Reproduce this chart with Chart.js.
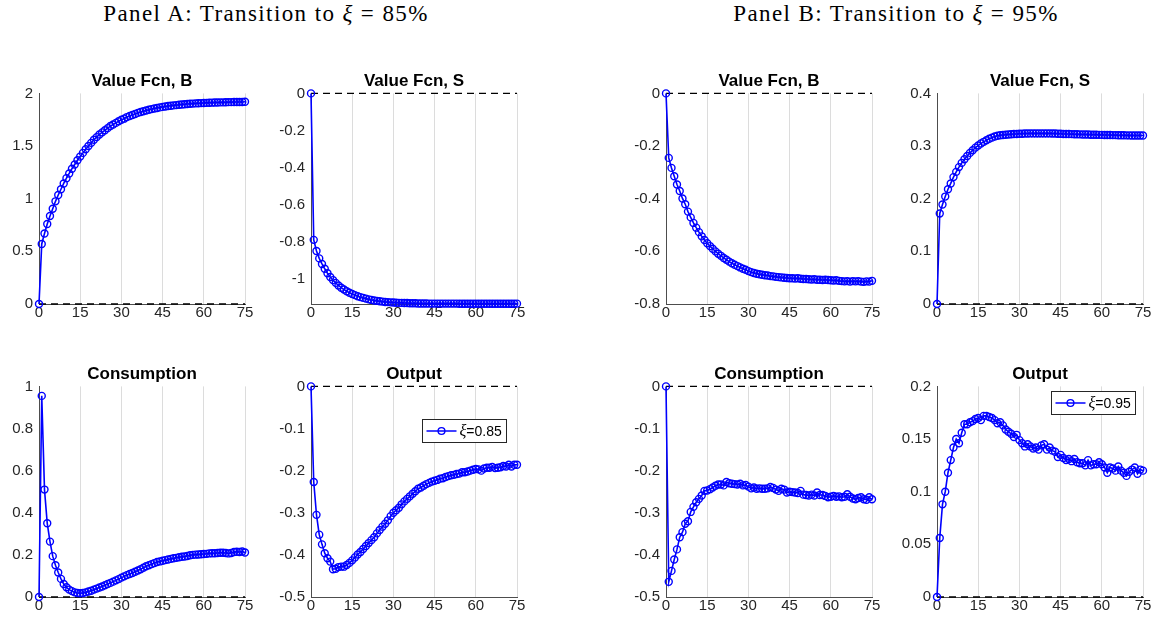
<!DOCTYPE html>
<html>
<head>
<meta charset="utf-8">
<script src="https://cdn.jsdelivr.net/npm/chart.js@4.4.0/dist/chart.umd.min.js"></script>
<style>
  body { margin:0; width:1159px; height:627px; background:#fff; position:relative; overflow:hidden; }
  .panel-head { position:absolute; top:3px; width:500px; text-align:center; font-family:"Liberation Serif", serif; font-size:23px; line-height:22px; letter-spacing:1.4px; color:#000; }
  .plot { position:absolute; }
</style>
</head>
<body>
<div class="panel-head" style="left:16px">Panel A: Transition to <i>ξ</i> = 85%</div>
<div class="panel-head" style="left:646px">Panel B: Transition to <i>ξ</i> = 95%</div>

<canvas id="vfB85" class="plot" width="254" height="263" style="left:1px;top:65px"></canvas>
<canvas id="vfS85" class="plot" width="254" height="263" style="left:273px;top:65px"></canvas>
<canvas id="vfB95" class="plot" width="254" height="263" style="left:628px;top:65px"></canvas>
<canvas id="vfS95" class="plot" width="254" height="263" style="left:899px;top:65px"></canvas>
<canvas id="cons85" class="plot" width="254" height="263" style="left:1px;top:358px"></canvas>
<canvas id="out85" class="plot" width="254" height="263" style="left:273px;top:358px"></canvas>
<canvas id="cons95" class="plot" width="254" height="263" style="left:628px;top:358px"></canvas>
<canvas id="out95" class="plot" width="254" height="263" style="left:899px;top:358px"></canvas>

<script>
// periods 0..75
const periods = Array.from({ length: 76 }, (_, i) => i);
const xTicks = [0, 15, 30, 45, 60, 75];

// Panel A (xi = 85%)
const vfB85 = [
  0, 0.57, 0.67, 0.76, 0.835, 0.905, 0.975, 1.035, 1.09, 1.145,
  1.195, 1.24, 1.285, 1.325, 1.365, 1.40, 1.435, 1.47, 1.50, 1.53,
  1.56, 1.585, 1.61, 1.63, 1.65, 1.67, 1.69, 1.705, 1.72, 1.735,
  1.75, 1.76, 1.775, 1.785, 1.795, 1.805, 1.815, 1.823, 1.83, 1.838,
  1.845, 1.851, 1.857, 1.862, 1.867, 1.872, 1.876, 1.88, 1.883, 1.886,
  1.889, 1.892, 1.895, 1.897, 1.899, 1.901, 1.903, 1.905, 1.906, 1.908,
  1.909, 1.91, 1.911, 1.912, 1.913, 1.914, 1.915, 1.915, 1.916, 1.917,
  1.917, 1.918, 1.918, 1.919, 1.919, 1.92
];
const vfS85 = [
  0, -0.79, -0.85, -0.89, -0.92, -0.946, -0.97, -0.99, -1.007, -1.022,
  -1.036, -1.048, -1.058, -1.067, -1.075, -1.082, -1.088, -1.094, -1.099, -1.103,
  -1.107, -1.111, -1.114, -1.117, -1.119, -1.121, -1.123, -1.125, -1.126, -1.127,
  -1.128, -1.129, -1.13, -1.13, -1.131, -1.131, -1.132, -1.132, -1.132, -1.133,
  -1.133, -1.133, -1.133, -1.134, -1.134, -1.134, -1.134, -1.134, -1.134, -1.134,
  -1.134, -1.134, -1.134, -1.134, -1.135, -1.135, -1.135, -1.135, -1.135, -1.135,
  -1.135, -1.135, -1.135, -1.135, -1.135, -1.135, -1.135, -1.135, -1.135, -1.135,
  -1.135, -1.135, -1.135, -1.135, -1.135, -1.134
];
const cons85 = [
  0, 0.955, 0.51, 0.35, 0.263, 0.194, 0.151, 0.116, 0.086, 0.062,
  0.046, 0.035, 0.028, 0.022, 0.019, 0.018, 0.019, 0.022, 0.026, 0.030,
  0.035, 0.040, 0.045, 0.050, 0.056, 0.062, 0.067, 0.073, 0.079, 0.085,
  0.092, 0.098, 0.104, 0.109, 0.114, 0.120, 0.126, 0.132, 0.139, 0.146,
  0.151, 0.156, 0.161, 0.166, 0.169, 0.172, 0.175, 0.178, 0.181, 0.184,
  0.186, 0.189, 0.191, 0.192, 0.195, 0.198, 0.200, 0.201, 0.202, 0.203,
  0.204, 0.205, 0.207, 0.208, 0.208, 0.209, 0.210, 0.210, 0.209, 0.207,
  0.209, 0.214, 0.215, 0.214, 0.216, 0.211
];
const out85 = [
  0, -0.227, -0.305, -0.352, -0.375, -0.396, -0.408, -0.416, -0.434, -0.433,
  -0.429, -0.428, -0.428, -0.424, -0.419, -0.413, -0.406, -0.399, -0.393, -0.386,
  -0.379, -0.372, -0.365, -0.358, -0.349, -0.341, -0.333, -0.326, -0.318, -0.308,
  -0.300, -0.294, -0.288, -0.280, -0.273, -0.267, -0.261, -0.255, -0.249, -0.243,
  -0.240, -0.236, -0.232, -0.229, -0.226, -0.224, -0.222, -0.219, -0.218, -0.215,
  -0.213, -0.211, -0.210, -0.208, -0.207, -0.204, -0.204, -0.202, -0.200, -0.198,
  -0.196, -0.197, -0.200, -0.195, -0.193, -0.193, -0.191, -0.194, -0.193, -0.192,
  -0.189, -0.190, -0.186, -0.190, -0.186, -0.186
];

// Panel B (xi = 95%)
const vfB95 = [
  0, -0.245, -0.283, -0.315, -0.346, -0.371, -0.399, -0.421, -0.449, -0.471,
  -0.492, -0.51, -0.527, -0.543, -0.557, -0.569, -0.58, -0.59, -0.60, -0.609,
  -0.617, -0.625, -0.632, -0.639, -0.645, -0.651, -0.656, -0.661, -0.666, -0.670,
  -0.675, -0.679, -0.682, -0.685, -0.687, -0.689, -0.691, -0.692, -0.694, -0.695,
  -0.697, -0.698, -0.699, -0.700, -0.701, -0.702, -0.702, -0.703, -0.702, -0.704,
  -0.705, -0.705, -0.706, -0.707, -0.706, -0.708, -0.708, -0.709, -0.708, -0.709,
  -0.710, -0.711, -0.710, -0.712, -0.713, -0.714, -0.713, -0.715, -0.713, -0.714,
  -0.713, -0.715, -0.716, -0.714, -0.715, -0.712
];
const vfS95 = [
  0, 0.172, 0.189, 0.204, 0.218, 0.229, 0.241, 0.251, 0.26, 0.268,
  0.275, 0.281, 0.287, 0.292, 0.297, 0.301, 0.305, 0.308, 0.311, 0.314,
  0.316, 0.318, 0.3195, 0.3205, 0.321, 0.3215, 0.322, 0.3225, 0.323, 0.323,
  0.3233, 0.3235, 0.3237, 0.3238, 0.324, 0.324, 0.324, 0.324, 0.324, 0.324,
  0.324, 0.324, 0.3238, 0.3237, 0.3235, 0.3233, 0.323, 0.323, 0.3228, 0.3226,
  0.3225, 0.3224, 0.3222, 0.322, 0.322, 0.3218, 0.3216, 0.3215, 0.3214, 0.3213,
  0.3212, 0.3211, 0.321, 0.3209, 0.3208, 0.3207, 0.3206, 0.3205, 0.3204, 0.3203,
  0.3202, 0.3201, 0.32, 0.32, 0.32, 0.3199
];
const cons95 = [
  0, -0.464, -0.438, -0.411, -0.387, -0.358, -0.346, -0.326, -0.320, -0.298,
  -0.286, -0.275, -0.267, -0.259, -0.248, -0.247, -0.244, -0.240, -0.236, -0.233,
  -0.233, -0.235, -0.227, -0.230, -0.231, -0.232, -0.233, -0.231, -0.235, -0.234,
  -0.238, -0.242, -0.240, -0.243, -0.242, -0.243, -0.243, -0.242, -0.239, -0.241,
  -0.245, -0.248, -0.243, -0.245, -0.252, -0.250, -0.251, -0.252, -0.253, -0.248,
  -0.257, -0.258, -0.259, -0.257, -0.259, -0.252, -0.258, -0.258, -0.260, -0.263,
  -0.262, -0.260, -0.262, -0.261, -0.263, -0.262, -0.256, -0.262, -0.266, -0.268,
  -0.265, -0.263, -0.268, -0.269, -0.263, -0.268
];
const out95 = [
  0, 0.056, 0.088, 0.100, 0.118, 0.130, 0.142, 0.150, 0.146, 0.156,
  0.164, 0.164, 0.166, 0.167, 0.169, 0.170, 0.168, 0.172, 0.172, 0.171,
  0.170, 0.168, 0.165, 0.166, 0.163, 0.159, 0.157, 0.155, 0.152, 0.154,
  0.149, 0.146, 0.143, 0.145, 0.143, 0.141, 0.142, 0.140, 0.144, 0.145,
  0.140, 0.142, 0.139, 0.138, 0.133, 0.135, 0.132, 0.130, 0.131, 0.129,
  0.131, 0.128, 0.127, 0.127, 0.125, 0.130, 0.125, 0.126, 0.126, 0.128,
  0.126, 0.123, 0.118, 0.123, 0.122, 0.120, 0.124, 0.120, 0.118, 0.115,
  0.119, 0.121, 0.123, 0.117, 0.121, 0.120
];

// y tick labels per panel
const yTicksVfB85 = [0, 0.5, 1, 1.5, 2];
const yTicksVfS85 = [-1, -0.8, -0.6, -0.4, -0.2, 0];
const yTicksCons85 = [0, 0.2, 0.4, 0.6, 0.8, 1];
const yTicksOut85 = [-0.5, -0.4, -0.3, -0.2, -0.1, 0];
const yTicksVfB95 = [-0.8, -0.6, -0.4, -0.2, 0];
const yTicksVfS95 = [0, 0.1, 0.2, 0.3, 0.4];
const yTicksCons95 = [-0.5, -0.4, -0.3, -0.2, -0.1, 0];
const yTicksOut95 = [0, 0.05, 0.1, 0.15, 0.2];

Chart.defaults.font.family = "'Liberation Sans', Arial, sans-serif";

const blue = 'rgb(0,0,255)';
const axisCol = '#4d4d4d';

// small boxed legend inside the plot area (matlab style)
const legendBox = {
  id: 'legendBox',
  afterDraw(chart, args, opts) {
    if (!opts || !opts.label) return;
    const ctx = chart.ctx, a = chart.chartArea;
    const w = 84, h = 23;
    const x = Math.round(a.right - opts.right - w) + 0.5;
    const y = Math.round(a.top + opts.top) + 0.5;
    ctx.save();
    ctx.fillStyle = '#fff';
    ctx.fillRect(x, y, w, h);
    ctx.strokeStyle = '#262626';
    ctx.lineWidth = 1;
    ctx.strokeRect(x, y, w, h);
    const my = y + h / 2;
    ctx.strokeStyle = blue;
    ctx.lineWidth = 1.5;
    ctx.beginPath();
    ctx.moveTo(x + 4, my);
    ctx.lineTo(x + 34, my);
    ctx.stroke();
    ctx.lineWidth = 1.4;
    ctx.beginPath();
    ctx.arc(x + 19, my, 3.4, 0, Math.PI * 2);
    ctx.stroke();
    ctx.fillStyle = '#000';
    ctx.textBaseline = 'middle';
    ctx.font = "italic 16px 'Liberation Serif'";
    ctx.fillText('ξ', x + 37, my + 1);
    const gw = ctx.measureText('ξ').width;
    ctx.font = "14px 'Liberation Sans'";
    ctx.fillText(opts.label, x + 37 + gw, my + 1);
    ctx.restore();
  }
};

function toPoints(vals) {
  return vals.map((v, i) => ({ x: periods[i], y: v }));
}

function makeChart(id, title, vals, yMin, yMax, yTicks, legend) {
  return new Chart(document.getElementById(id), {
    type: 'line',
    data: {
      datasets: [
        {
          data: toPoints(vals),
          borderColor: blue,
          borderWidth: 1.6,
          pointRadius: 3.5,
          pointBorderWidth: 1.4,
          pointBorderColor: blue,
          pointBackgroundColor: 'rgba(0,0,0,0)',
          tension: 0,
          clip: false
        },
        {
          data: [{ x: xTicks[0], y: 0 }, { x: xTicks[xTicks.length - 1], y: 0 }],
          borderColor: '#000',
          borderWidth: 1.3,
          borderDash: [7, 5],
          pointRadius: 0,
          clip: false
        }
      ]
    },
    options: {
      responsive: false,
      animation: false,
      layout: { padding: { right: 10 } },
      plugins: {
        legend: { display: false },
        tooltip: { enabled: false },
        title: {
          display: true,
          text: title,
          fullSize: false,
          color: '#000',
          font: { size: 17, weight: 'bold' },
          padding: { top: 6, bottom: 2 }
        },
        legendBox: legend || {}
      },
      scales: {
        x: {
          type: 'linear',
          min: xTicks[0],
          max: xTicks[xTicks.length - 1],
          afterBuildTicks: s => { s.ticks = xTicks.map(v => ({ value: v })); },
          afterFit: s => { s.height = 24; },
          ticks: { color: '#262626', font: { size: 15 }, padding: 0, maxRotation: 0, autoSkip: false },
          grid: {
            drawTicks: false,
            color: c => (c.tick && c.tick.value === 0) ? 'rgba(0,0,0,0)' : '#dcdcdc',
            lineWidth: 1
          },
          border: { display: true, color: axisCol, width: 1 }
        },
        y: {
          min: yMin,
          max: yMax,
          afterBuildTicks: s => { s.ticks = yTicks.map(v => ({ value: v })); },
          afterFit: s => { s.width = 38; },
          ticks: { color: '#262626', font: { size: 15 }, padding: 6, autoSkip: false, callback: v => String(v) },
          grid: { display: false, drawTicks: false },
          border: { display: true, color: axisCol, width: 1 }
        }
      }
    },
    plugins: [legendBox]
  });
}

makeChart('vfB85', 'Value Fcn, B', vfB85, 0, 2, yTicksVfB85);
makeChart('vfS85', 'Value Fcn, S', vfS85, -1.136, 0, yTicksVfS85);
makeChart('cons85', 'Consumption', cons85, 0, 1, yTicksCons85);
makeChart('out85', 'Output', out85, -0.5, 0, yTicksOut85, { label: '=0.85', top: 33, right: 11 });

makeChart('vfB95', 'Value Fcn, B', vfB95, -0.8, 0, yTicksVfB95);
makeChart('vfS95', 'Value Fcn, S', vfS95, 0, 0.4, yTicksVfS95);
makeChart('cons95', 'Consumption', cons95, -0.5, 0, yTicksCons95);
makeChart('out95', 'Output', out95, 0, 0.2, yTicksOut95, { label: '=0.95', top: 5, right: 8 });
</script>
</body>
</html>
